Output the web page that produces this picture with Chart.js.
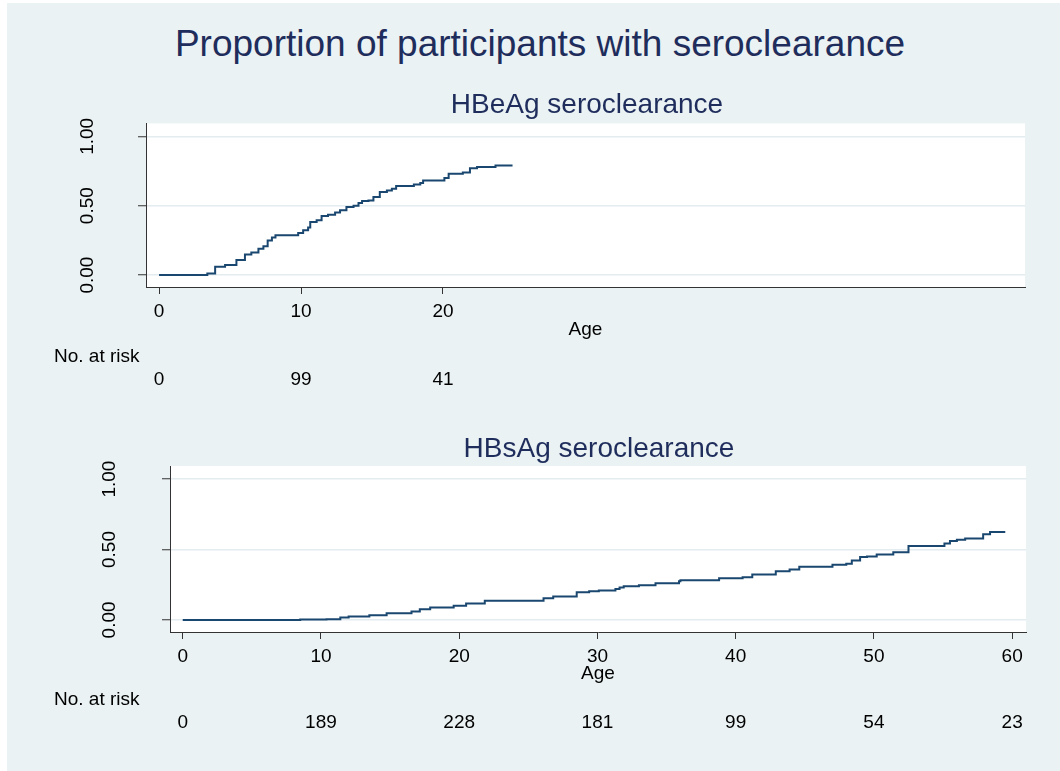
<!DOCTYPE html>
<html lang="en">
<head>
<meta charset="UTF-8">
<title>Proportion of participants with seroclearance</title>
<script src="https://cdn.jsdelivr.net/npm/chart.js"></script>
<style>
  html, body { margin: 0; padding: 0; background: #fff; }
  body { width: 1060px; height: 771px; position: relative; overflow: hidden; font-family: "Liberation Sans", Arial, sans-serif; }
  #bg { position: absolute; left: 7px; top: 3px; right: 0; bottom: 0; background: #eaf2f3; }
  #title { position: absolute; left: 0; top: 25px; width: 1080px; text-align: center; font-size: 37px; line-height: 37px; color: #1f2d5c; }
  canvas { position: absolute; left: 0; }
  #topChart { top: 80px; }
  #bottomChart { top: 420px; }
</style>
</head>
<body>
<div id="bg"></div>
<div id="title">Proportion of participants with seroclearance</div>
<canvas id="topChart" width="1060" height="320"></canvas>
<canvas id="bottomChart" width="1060" height="340"></canvas>
<script>
// HBeAg curve: age at each step, proportion after the step
const topAges = [0, 3.4, 3.95, 4.65, 5.45, 6.05, 6.5, 7.0, 7.35, 7.65, 7.95, 8.2, 9.8, 10.15, 10.5, 10.65,
  11.1, 11.45, 11.9, 12.4, 12.75, 13.2, 13.7, 14.05, 14.3, 14.75, 15.1, 15.55, 16.05, 16.4, 16.7,
  17.95, 18.4, 18.6, 20.1, 20.4, 21.4, 21.9, 22.4, 23.7, 24.9];
const topValues = [0, 0.012, 0.06, 0.072, 0.108, 0.148, 0.163, 0.19, 0.208, 0.25, 0.27, 0.287, 0.304, 0.323, 0.342, 0.383,
  0.395, 0.426, 0.435, 0.45, 0.467, 0.49, 0.5, 0.52, 0.533, 0.538, 0.562, 0.598, 0.61, 0.622, 0.641,
  0.653, 0.663, 0.682, 0.7, 0.73, 0.739, 0.77, 0.778, 0.79, 0.79];

// HBsAg curve
const bottomAges = [0, 8.5, 10.4, 11.4, 12.0, 13.5, 14.75, 16.55, 17.15, 17.9, 19.6, 20.5, 21.85, 26.1, 26.8,
  28.5, 29.4, 30.1, 31.3, 31.6, 31.9, 33.0, 34.2, 35.9, 36.0, 38.8, 40.5, 41.2, 42.9, 43.9, 44.6,
  47.0, 48.0, 48.4, 49.0, 49.5, 50.2, 51.4, 52.5, 55.1, 55.5, 56.0, 56.6, 57.9, 58.4, 59.5];
const bottomValues = [0, 0.003, 0.005, 0.017, 0.024, 0.033, 0.048, 0.06, 0.076, 0.088, 0.1, 0.117, 0.136, 0.153, 0.167,
  0.196, 0.203, 0.208, 0.22, 0.23, 0.239, 0.246, 0.26, 0.274, 0.282, 0.296, 0.303, 0.322, 0.346, 0.358, 0.377,
  0.391, 0.398, 0.422, 0.446, 0.451, 0.465, 0.48, 0.525, 0.542, 0.561, 0.57, 0.578, 0.609, 0.625, 0.625];

const topTicks = [0, 10, 20];
const bottomTicks = [0, 10, 20, 30, 40, 50, 60];
const yTicks = [0, 0.5, 1];
const topAtRisk = [0, 99, 41];
const bottomAtRisk = [0, 189, 228, 181, 99, 54, 23];

const FONT = '"Liberation Sans", Arial, sans-serif';
Chart.defaults.font.family = FONT;

// white plot region, panel title and the number-at-risk table
const panelPlugin = {
  id: 'panel',
  beforeDraw(chart) {
    const a = chart.chartArea, ctx = chart.ctx;
    ctx.save();
    ctx.fillStyle = '#ffffff';
    ctx.fillRect(a.left, a.top, a.right - a.left, a.bottom - a.top);
    ctx.restore();
  },
  afterDraw(chart, args, opts) {
    const ctx = chart.ctx, x = chart.scales.x;
    ctx.save();
    ctx.fillStyle = '#1f2d5c';
    ctx.font = '28px ' + FONT;
    ctx.textAlign = 'center';
    ctx.textBaseline = 'alphabetic';
    ctx.fillText(opts.title, opts.titleX, opts.titleY);

    ctx.fillStyle = '#000';
    ctx.font = '19px ' + FONT;
    ctx.textAlign = 'left';
    ctx.textBaseline = 'middle';
    ctx.fillText('No. at risk', 54, opts.riskLabelY);
    ctx.textAlign = 'center';
    opts.ticks.forEach((t, i) => {
      ctx.fillText(String(opts.risk[i]), x.getPixelForValue(t), opts.riskY);
    });
    ctx.restore();
  }
};

function makeChart(id, cfg) {
  return new Chart(document.getElementById(id), {
    type: 'line',
    data: {
      datasets: [{
        data: cfg.ages.map((a, i) => ({ x: a, y: cfg.values[i] })),
        stepped: 'before',
        borderColor: '#1a476f',
        borderWidth: 2,
        pointRadius: 0,
        fill: false
      }]
    },
    options: {
      responsive: false,
      animation: false,
      devicePixelRatio: 1,
      layout: { padding: cfg.padding },
      plugins: {
        legend: { display: false },
        tooltip: { enabled: false },
        panel: {
          title: cfg.title, titleX: cfg.titleX, titleY: cfg.titleY,
          riskLabelY: cfg.riskLabelY, riskY: cfg.riskY,
          ticks: cfg.xTicks, risk: cfg.risk
        }
      },
      scales: {
        x: {
          type: 'linear',
          min: -0.92,
          max: 61,
          afterBuildTicks: s => { s.ticks = cfg.xTicks.map(v => ({ value: v })); },
          afterFit: s => { s.height = cfg.xHeight; },
          grid: { drawOnChartArea: false, drawTicks: true, tickLength: 7, tickColor: '#333', tickWidth: 1 },
          border: { display: true, color: '#333', width: 1 },
          ticks: { autoSkip: false, maxRotation: 0, padding: 6, color: '#000', font: { size: 19 } },
          title: { display: true, text: 'Age', color: '#000', font: { size: 19 }, padding: 0 }
        },
        y: {
          type: 'linear',
          min: -0.086,
          max: 1.093,
          afterBuildTicks: s => { s.ticks = yTicks.map(v => ({ value: v })); },
          afterFit: s => { s.width = cfg.yWidth; },
          grid: { color: '#e3ecef', lineWidth: 1.5, drawTicks: true, tickLength: 8, tickColor: '#333', tickWidth: 1 },
          border: { display: true, color: '#333', width: 1 },
          ticks: {
            minRotation: 90, maxRotation: 90, crossAlign: 'center', padding: cfg.yPad,
            color: '#000', font: { size: 19 },
            callback: v => Number(v).toFixed(2)
          }
        }
      }
    },
    plugins: [panelPlugin]
  });
}

makeChart('topChart', {
  ages: topAges, values: topValues, xTicks: topTicks, risk: topAtRisk,
  title: 'HBeAg seroclearance', titleX: 587, titleY: 33.3,
  riskLabelY: 277, riskY: 300,
  padding: { left: 0, right: 35, top: 42, bottom: 58.6 },
  yWidth: 146, xHeight: 54.4, yPad: 32
});

makeChart('bottomChart', {
  ages: bottomAges, values: bottomValues, xTicks: bottomTicks, risk: bottomAtRisk,
  title: 'HBsAg seroclearance', titleX: 599, titleY: 37,
  riskLabelY: 280, riskY: 303,
  padding: { left: 0, right: 34, top: 46, bottom: 74.6 },
  yWidth: 170, xHeight: 53.4, yPad: 34
});
</script>
</body>
</html>
